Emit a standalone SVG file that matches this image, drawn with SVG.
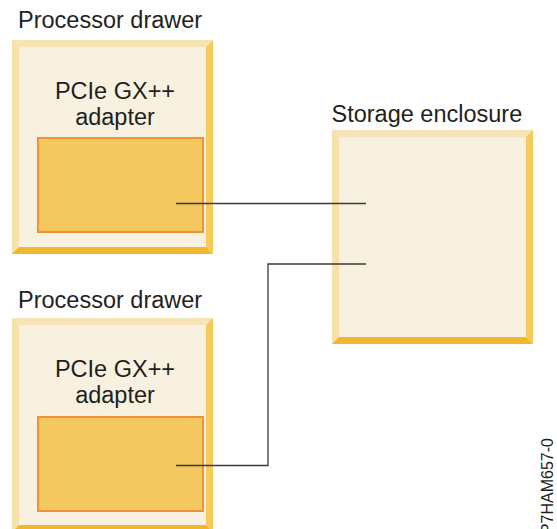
<svg xmlns="http://www.w3.org/2000/svg" width="557" height="529" viewBox="0 0 557 529">
<style>
text{font-family:"Liberation Sans",Arial,sans-serif;fill:#231f20}
.lbl{font-size:23.5px}
.ctr{font-size:23.5px;text-anchor:middle}
.face{fill:#f8f1e0}
.bt{fill:#f6e4b6}
.bl{fill:#f7e1a9}
.br{fill:#f5cb5c}
.bb{fill:#f3b72f}
.adp{fill:#f3c85e;stroke:#f39234;stroke-width:2}
.conn{fill:none;stroke:#3a3a3a;stroke-width:1.3}
</style>
<rect width="557" height="529" fill="#ffffff"/>
<g id="drawer1">
<rect class="face" x="12" y="40" width="201" height="214"/>
<polygon class="bt" points="12,40 213,40 206,47 19,47"/>
<polygon class="bl" points="12,40 19,47 19,247 12,254"/>
<polygon class="br" points="213,40 213,254 206,247 206,47"/>
<polygon class="bb" points="12,254 213,254 206,247 19,247"/>
<text class="lbl" x="18" y="28">Processor drawer</text>
<text class="ctr" x="115" y="99">PCIe GX++</text>
<text class="ctr" x="115" y="124.5">adapter</text>
<rect id="adapter1" class="adp" x="38" y="138" width="165" height="94"/>
</g>
<g id="drawer2">
<rect class="face" x="12" y="318" width="201" height="214"/>
<polygon class="bt" points="12,318 213,318 206,325 19,325"/>
<polygon class="bl" points="12,318 19,325 19,525 12,532"/>
<polygon class="br" points="213,318 213,532 206,525 206,325"/>
<polygon class="bb" points="12,532 213,532 206,525 19,525"/>
<text class="lbl" x="18" y="308">Processor drawer</text>
<text class="ctr" x="115" y="377">PCIe GX++</text>
<text class="ctr" x="115" y="403">adapter</text>
<rect id="adapter2" class="adp" x="38" y="417" width="165" height="94"/>
</g>
<g id="storage">
<rect class="face" x="332" y="130" width="201" height="214"/>
<polygon class="bt" points="332,130 533,130 526,137 339,137"/>
<polygon class="bl" points="332,130 339,137 339,337 332,344"/>
<polygon class="br" points="533,130 533,344 526,337 526,137"/>
<polygon class="bb" points="332,344 533,344 526,337 339,337"/>
<text class="lbl" x="331.5" y="121.5">Storage enclosure</text>
</g>
<g id="connectors">
<path class="conn" d="M176,203.5 H366"/>
<path class="conn" d="M176,465.5 H268 V264 H366"/>
</g>
<text transform="translate(553,438) rotate(-90)" font-size="16" text-anchor="end">P7HAM657-0</text>
</svg>
